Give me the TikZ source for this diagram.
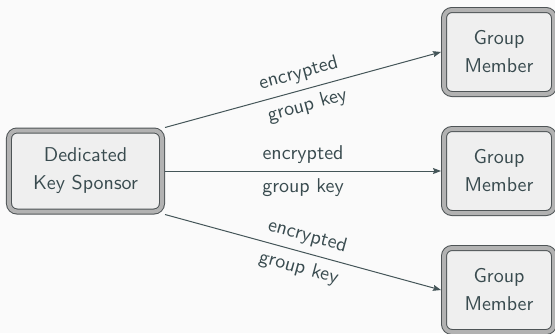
\documentclass[tikz,border=0pt]{standalone}
\usepackage{tikz}
\usetikzlibrary{positioning, arrows.meta}

\definecolor{darkteal}{HTML}{23373B}
\definecolor{bgcol}{HTML}{FAFAFA}
\definecolor{boxfill}{HTML}{EFEFEF}
\definecolor{rimgray}{HTML}{B2B2B2}
\definecolor{rimdark}{HTML}{4E5456}

\begin{document}
\begin{tikzpicture}[
    entity/.style={draw=rimdark, line width=0.5pt, double=rimgray, double distance=2pt, rounded corners=4pt, fill=boxfill, outer sep=1.5pt, align=center, text=darkteal!90, font=\sffamily\fontsize{10}{14}\selectfont},
    sponsor/.style={entity, minimum width=76.5pt, minimum height=40.5pt},
    member/.style={entity, minimum width=55pt, minimum height=42pt},
    arrow/.style={-{Stealth[length=4pt, width=3pt, inset=0.6pt]}, draw=darkteal!85, line width=0.5pt},
    lbl/.style={sloped, inner sep=3.5pt, text=darkteal!90, font=\sffamily\fontsize{10}{12}\selectfont}
]

% Frame and background
\useasboundingbox (-42.75pt,-81pt) rectangle (234.75pt,85.5pt);
\clip (-42.75pt,-81pt) rectangle (234.75pt,85.5pt);
\fill[bgcol] (-42.75pt,-81pt) rectangle (234.75pt,85.5pt);

% Nodes
\node[sponsor] (dks) at (0,0) {Dedicated\\Key Sponsor};
\node[member, right=138pt of dks] (gm2) {Group\\Member};
\node[member, above=14.5pt of gm2] (gm1) {Group\\Member};
\node[member, below=14.5pt of gm2] (gm3) {Group\\Member};

% Key distribution
\draw[arrow] (dks.north east) -- node[lbl, above] {encrypted} node[lbl, below] {group key} (gm1.west);
\draw[arrow] (dks.east) -- node[lbl, above] {encrypted} node[lbl, below] {group key} (gm2.west);
\draw[arrow] (dks.south east) -- node[lbl, above] {encrypted} node[lbl, below] {group key} (gm3.west);

\end{tikzpicture}
\end{document}
